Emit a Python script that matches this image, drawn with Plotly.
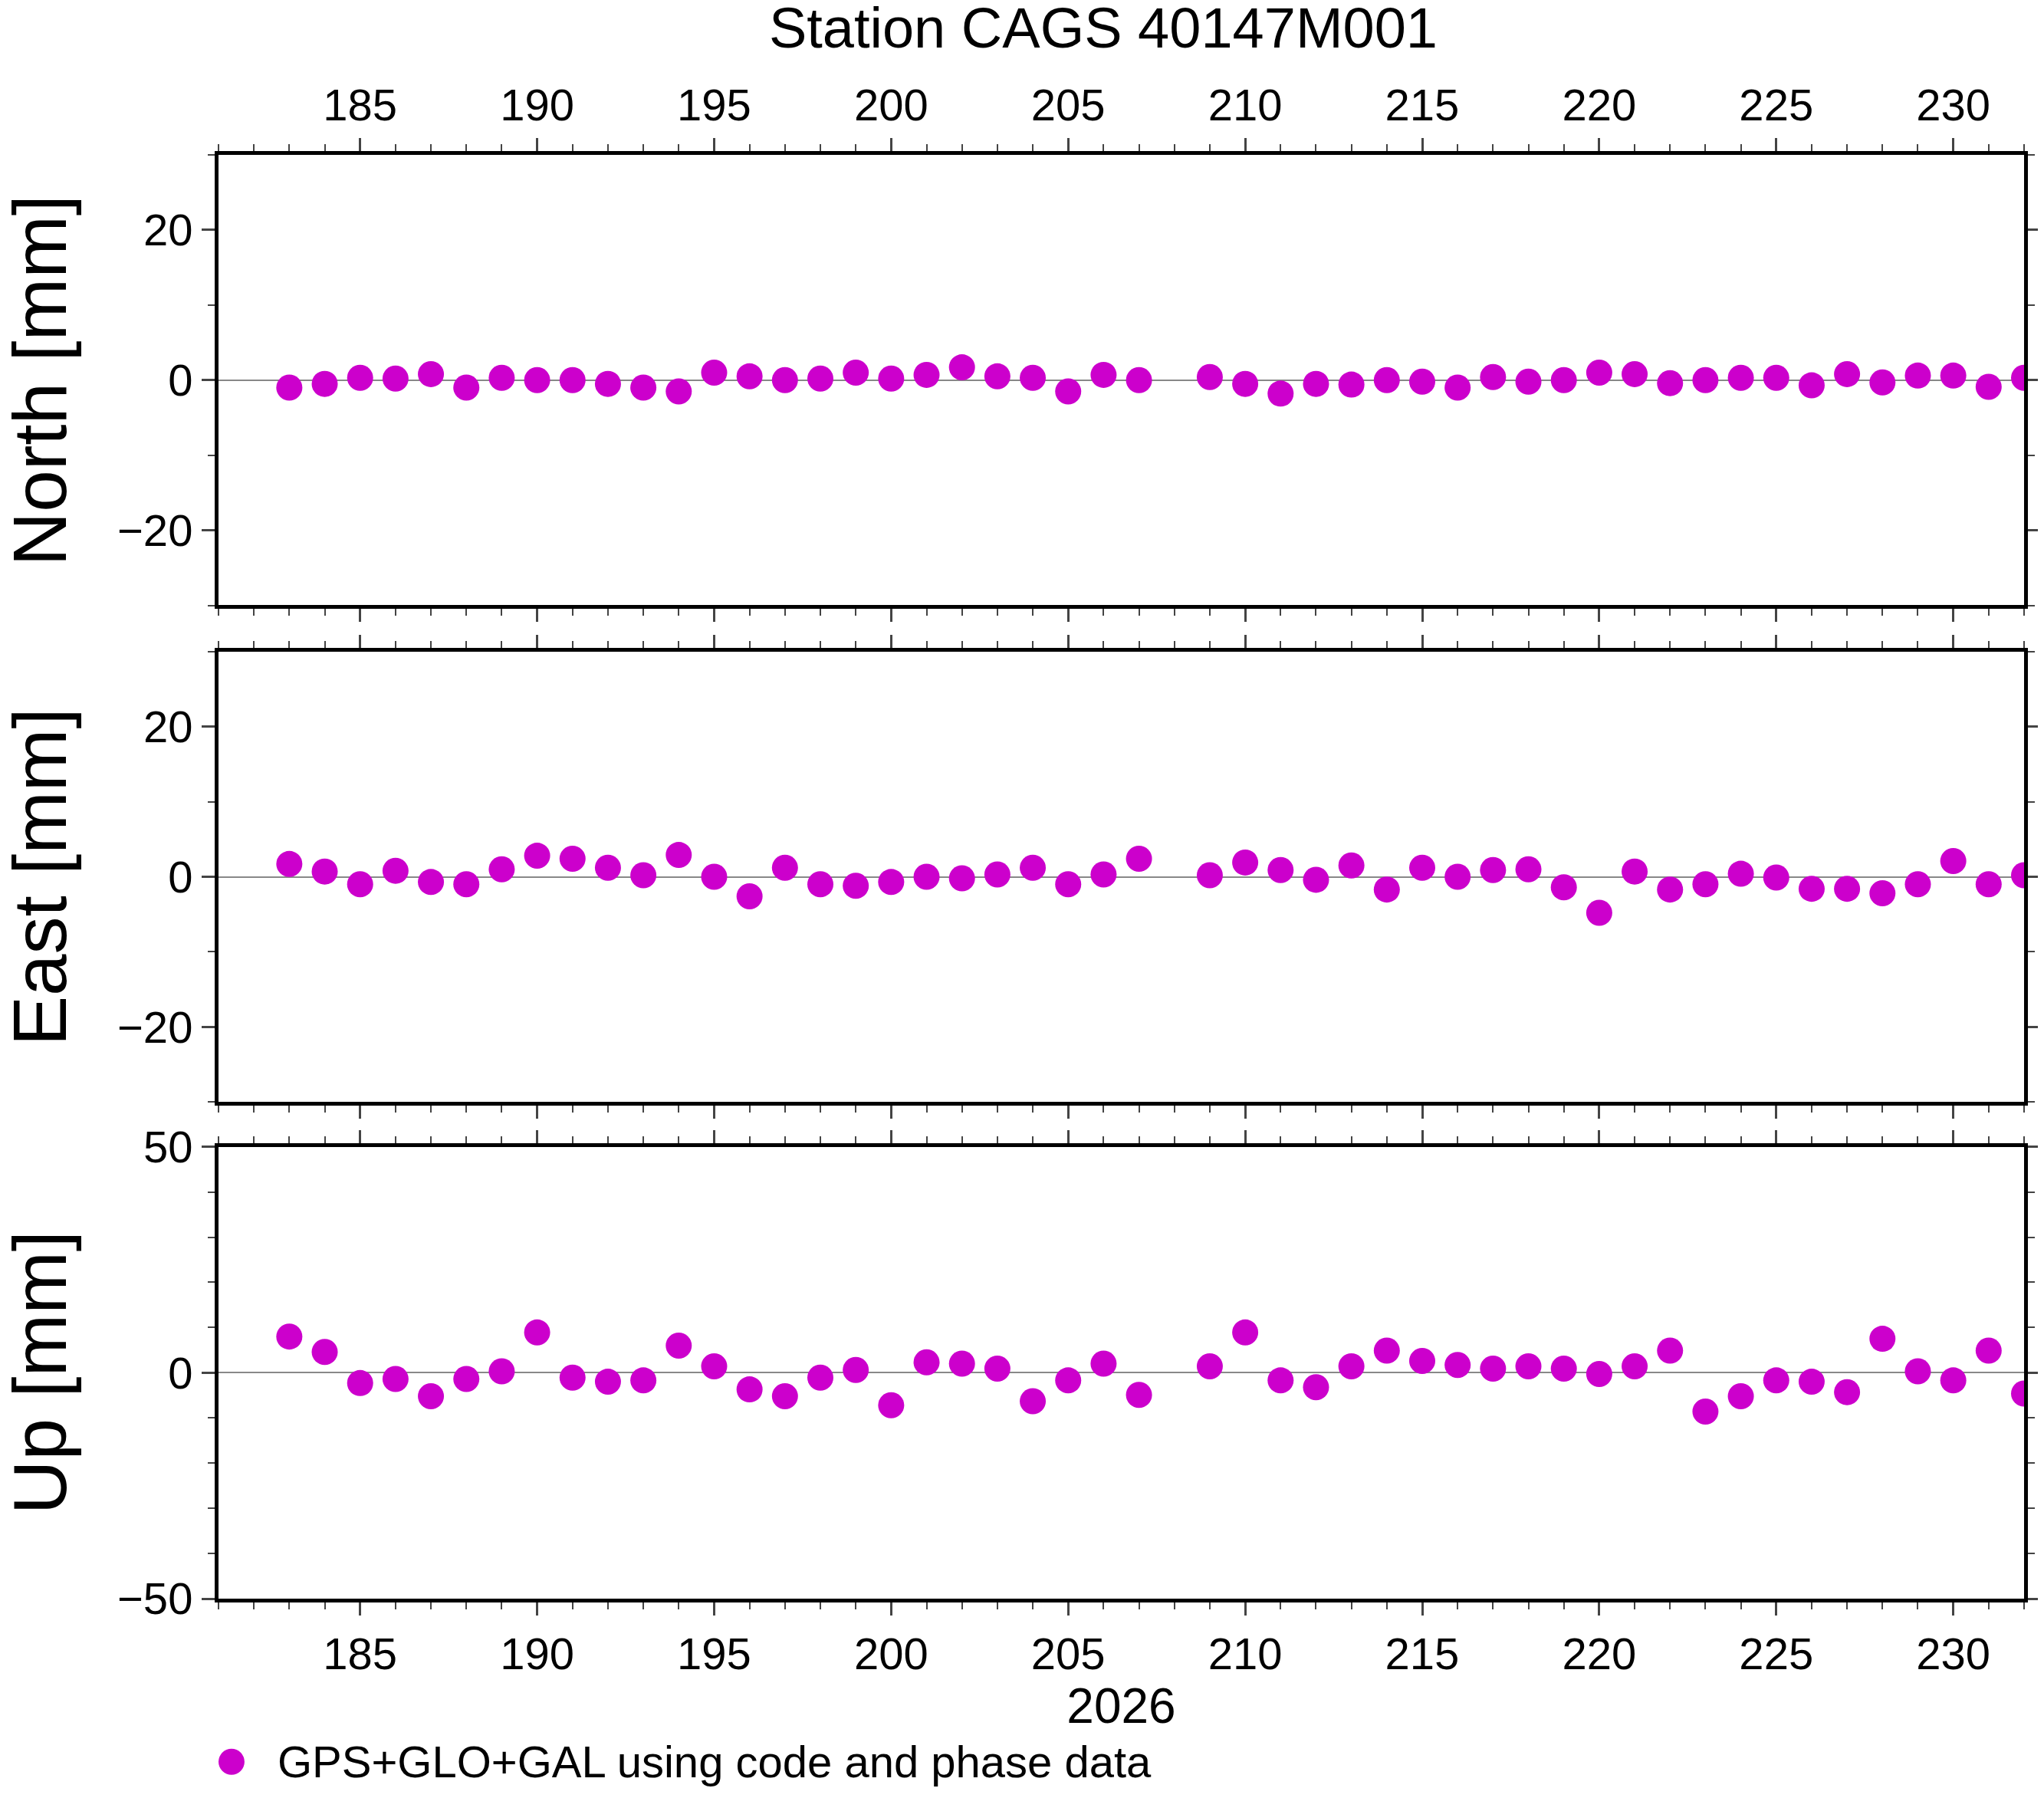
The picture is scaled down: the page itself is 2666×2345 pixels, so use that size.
import plotly.graph_objects as go

days = [183,184,185,186,187,188,189,190,191,192,193,194,195,196,197,198,199,200,201,202,203,204,205,206,207,
        209,210,211,212,213,214,215,216,217,218,219,220,221,222,223,224,225,226,227,228,229,230,231,232]
north = [-1,-0.5,0.3,0.2,0.8,-1,0.3,0,0,-0.5,-1,-1.5,1,0.5,0,0.2,1,0.2,0.7,1.7,0.5,0.3,-1.5,0.7,0,
         0.4,-0.5,-1.8,-0.5,-0.6,0,-0.2,-1,0.4,-0.2,0,1,0.8,-0.4,0,0.3,0.3,-0.7,0.8,-0.3,0.6,0.6,-0.9,0.3]
east = [1.7,0.7,-1,0.8,-0.7,-1,1,2.8,2.4,1.2,0.2,2.9,0,-2.6,1.2,-1,-1.2,-0.7,0,-0.2,0.3,1.2,-1,0.3,2.4,
        0.2,1.9,0.9,-0.4,1.5,-1.7,1.2,0,0.9,1,-1.4,-4.8,0.7,-1.7,-1,0.4,-0.1,-1.6,-1.6,-2.2,-1,2.1,-1,0.2]
up = [8,4.6,-2.3,-1.4,-5.2,-1.4,0.3,8.9,-1.1,-2,-1.7,6,1.4,-3.7,-5.2,-1.1,0.6,-7.2,2.3,2,0.9,-6.3,-1.7,2,-4.9,
      1.4,8.9,-1.7,-3.2,1.4,4.9,2.6,1.7,0.9,1.4,0.9,-0.3,1.4,4.9,-8.6,-5.2,-1.7,-2,-4.3,7.5,0.3,-1.7,4.9,-4.6]
labels = ["North [mm]", "East [mm]", "Up [mm]"]
series = [north, east, up]
yranges = [[-30, 30], [-30, 30], [-50, 50]]
ydticks = [20, 20, 50]
yminor = [10, 10, 10]
legend_text = "GPS+GLO+GAL using code and phase data"

COL = "#cc00cc"
FONT = "Liberation Sans, Arial, sans-serif"
TF = 58

fig = go.Figure()
domains = [[0.688, 1.0], [0.344, 0.656], [0.0, 0.313]]
for i, vals in enumerate(series):
    n = "" if i == 0 else str(i + 1)
    fig.add_trace(go.Scatter(x=days, y=vals, mode="markers", xaxis="x" + n, yaxis="y" + n,
                             marker=dict(color=COL, size=34), name=legend_text, showlegend=False))
    xa = dict(domain=[0, 1], range=[181, 232], dtick=5, tick0=0, ticks="outside", ticklen=17, tickwidth=3,
              showline=True, linewidth=5, linecolor="black", mirror="ticks", showgrid=False, zeroline=False,
              minor=dict(dtick=1, ticklen=9, tickwidth=2, ticks="outside"),
              tickfont=dict(size=TF, color="black", family=FONT), anchor="y" + n,
              showticklabels=(i != 1), side="top" if i == 0 else "bottom")
    ya = dict(domain=domains[i], range=yranges[i], dtick=ydticks[i], ticks="outside", ticklen=17, tickwidth=3,
              showline=True, linewidth=5, linecolor="black", mirror="ticks", showgrid=False,
              zeroline=True, zerolinecolor="#888888", zerolinewidth=2,
              minor=dict(dtick=yminor[i], ticklen=9, tickwidth=2, ticks="outside"),
              tickfont=dict(size=TF, color="black", family=FONT), anchor="x" + n)
    if i == 2:
        xa["title"] = dict(text="2026", font=dict(size=64, color="black", family=FONT), standoff=8)
    fig.update_layout(**{"xaxis" + n: xa, "yaxis" + n: ya})
    fig.add_annotation(text=labels[i], xref="paper", yref="paper", x=-0.099, y=sum(domains[i]) / 2,
                       textangle=-90, showarrow=False, font=dict(size=98, color="black", family=FONT),
                       xanchor="center", yanchor="middle")

# legend drawn manually (large symbol)
LY = -0.113
fig.add_shape(type="circle", xref="paper", yref="paper", x0=0.0, x1=0.0144,
              y0=LY - 0.009, y1=LY + 0.009, fillcolor=COL, line=dict(width=0))
fig.add_annotation(text=legend_text, xref="paper", yref="paper", x=0.0317, y=LY, showarrow=False,
                   xanchor="left", yanchor="middle", font=dict(size=58, color="black", family=FONT))

fig.update_layout(
    width=2666, height=2345, paper_bgcolor="white", plot_bgcolor="white",
    margin=dict(l=277, r=26, t=194, b=268), showlegend=False,
    title=dict(text="Station CAGS 40147M001", x=0.49, xref="paper", xanchor="center", y=0.988, yanchor="middle",
               font=dict(size=74, color="black", family=FONT)),
)
fig.write_html("out.html")
